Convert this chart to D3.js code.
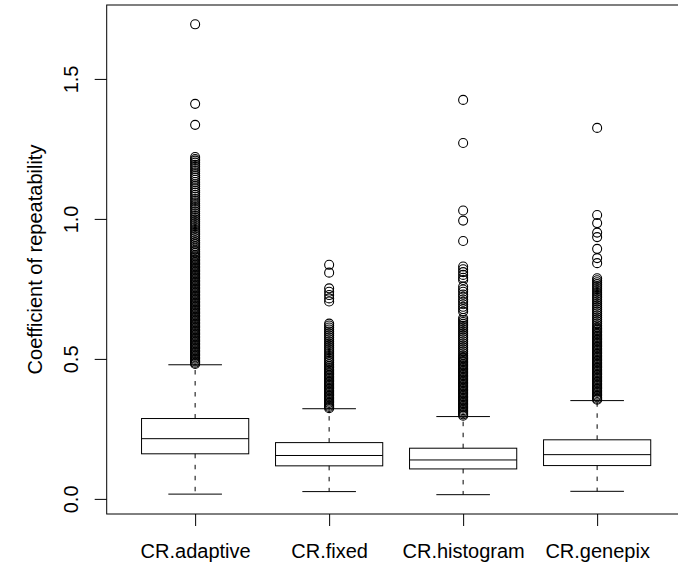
<!doctype html>
<html lang="en">
  <head>
    <meta charset="utf-8">
    <title>Coefficient of repeatability</title>
    <style>
      body { margin: 0; background: #fff; }
      svg text { font-family: "Liberation Sans", Arial, sans-serif; fill: #000; }
    </style>
  </head>
  <body>
    <div id="chart"></div>

  <script src="https://cdn.jsdelivr.net/npm/d3@7"></script>
  <script>

  // box statistics
  var categories = ["CR.adaptive", "CR.fixed", "CR.histogram", "CR.genepix"];
  var lowerWhisker = [0.017, 0.026, 0.015, 0.027];
  var q1 = [0.161, 0.118, 0.107, 0.119];
  var medians = [0.215, 0.155, 0.139, 0.158];
  var q3 = [0.287, 0.201, 0.181, 0.211];
  var upperWhisker = [0.479, 0.322, 0.294, 0.351];
  var yTicks = [0, 0.5, 1, 1.5];

  // outliers (estimated, dense runs are read as closely packed points)
  var outAdaptive = [1.695, 1.411, 1.336, 1.221, 1.214, 1.208, 1.201, 1.193, 1.186, 1.178, 1.171, 1.163, 1.155,
    1.148, 1.14, 1.132, 1.124, 1.117, 1.109, 1.101, 1.094, 1.086, 1.079, 1.071, 1.064, 1.056, 1.049, 1.042, 1.035,
    1.027, 1.02, 1.013, 1.006, 0.999, 0.992, 0.985, 0.978, 0.971, 0.964, 0.957, 0.95, 0.943, 0.936, 0.93, 0.923,
    0.916, 0.91, 0.903, 0.897, 0.89, 0.884, 0.878, 0.872, 0.866, 0.861, 0.856, 0.851, 0.846, 0.841, 0.836, 0.831,
    0.826, 0.821, 0.816, 0.811, 0.806, 0.801, 0.796, 0.791, 0.786, 0.781, 0.776, 0.771, 0.766, 0.761, 0.756, 0.751,
    0.746, 0.741, 0.736, 0.731, 0.726, 0.721, 0.716, 0.711, 0.706, 0.701, 0.696, 0.691, 0.686, 0.681, 0.676, 0.671,
    0.666, 0.661, 0.656, 0.651, 0.646, 0.641, 0.636, 0.631, 0.626, 0.621, 0.616, 0.611, 0.606, 0.601, 0.596, 0.591,
    0.586, 0.581, 0.576, 0.571, 0.566, 0.561, 0.556, 0.551, 0.546, 0.541, 0.536, 0.531, 0.526, 0.521, 0.516, 0.511,
    0.506, 0.501, 0.496, 0.491, 0.486, 0.482];
  var outFixed = [0.836, 0.808, 0.752, 0.74, 0.728, 0.716, 0.705, 0.626, 0.619, 0.612, 0.605, 0.598, 0.591, 0.584,
    0.577, 0.57, 0.563, 0.556, 0.549, 0.542, 0.535, 0.528, 0.521, 0.514, 0.507, 0.5, 0.493, 0.487, 0.481, 0.475,
    0.469, 0.463, 0.458, 0.453, 0.448, 0.443, 0.438, 0.433, 0.428, 0.423, 0.418, 0.413, 0.408, 0.403, 0.398, 0.393,
    0.388, 0.383, 0.378, 0.373, 0.368, 0.363, 0.358, 0.353, 0.348, 0.343, 0.338, 0.333, 0.328, 0.324];
  var outHistogram = [1.425, 1.271, 1.03, 0.994, 0.921, 0.83, 0.82, 0.81, 0.8, 0.79, 0.782, 0.758, 0.748, 0.74,
    0.73, 0.722, 0.712, 0.704, 0.695, 0.686, 0.678, 0.669, 0.646, 0.639, 0.632, 0.625, 0.618, 0.611, 0.604, 0.597,
    0.59, 0.583, 0.576, 0.569, 0.562, 0.555, 0.548, 0.541, 0.534, 0.527, 0.52, 0.513, 0.507, 0.502, 0.497, 0.492,
    0.487, 0.482, 0.477, 0.472, 0.467, 0.462, 0.457, 0.452, 0.447, 0.442, 0.437, 0.432, 0.427, 0.422, 0.417, 0.412,
    0.407, 0.402, 0.397, 0.392, 0.387, 0.382, 0.377, 0.372, 0.367, 0.362, 0.357, 0.352, 0.347, 0.342, 0.337, 0.332,
    0.327, 0.322, 0.317, 0.312, 0.307, 0.302, 0.297];
  var outGenepix = [1.325, 1.014, 0.985, 0.951, 0.935, 0.893, 0.86, 0.842, 0.788, 0.781, 0.774, 0.767, 0.76, 0.753,
    0.746, 0.739, 0.732, 0.725, 0.718, 0.711, 0.704, 0.697, 0.69, 0.683, 0.676, 0.669, 0.662, 0.655, 0.648, 0.641,
    0.634, 0.627, 0.62, 0.614, 0.608, 0.603, 0.598, 0.593, 0.588, 0.583, 0.578, 0.573, 0.568, 0.563, 0.558, 0.553,
    0.548, 0.543, 0.538, 0.533, 0.528, 0.523, 0.518, 0.513, 0.508, 0.503, 0.498, 0.493, 0.488, 0.483, 0.478, 0.473,
    0.468, 0.463, 0.458, 0.453, 0.448, 0.443, 0.438, 0.433, 0.428, 0.423, 0.418, 0.413, 0.408, 0.403, 0.398, 0.393,
    0.388, 0.383, 0.378, 0.373, 0.368, 0.363, 0.358, 0.354];
  var outliers = [outAdaptive, outFixed, outHistogram, outGenepix];

  var w = 678, h = 564;
  var plotLeft = 106.7, plotTop = 5, plotBottom = 514;
  var unit = 134; // pixels per box slot

  var svg = d3.select("#chart").append("svg")
      .attr("width", w)
      .attr("height", h);

  // R style ranges: 0.5..4.5 widened by 4%
  var x = d3.scaleLinear().domain([0.34, 4.66]).range([plotLeft, plotLeft + 4.32 * unit]);
  var y = d3.scaleLinear().domain([-0.054, 1.764]).range([plotBottom, plotTop]);

  var boxW = 0.8, capW = 0.4;

  var g = svg.append("g");

  for (var i = 0; i < categories.length; i++) {
    var cx = x(i + 1);
    // whiskers
    g.append("line")
      .attr("x1", cx).attr("x2", cx)
      .attr("y1", y(q3[i])).attr("y2", y(upperWhisker[i]))
      .attr("stroke", "#000").attr("stroke-dasharray", "4.5,6.5");
    g.append("line")
      .attr("x1", cx).attr("x2", cx)
      .attr("y1", y(q1[i])).attr("y2", y(lowerWhisker[i]))
      .attr("stroke", "#000").attr("stroke-dasharray", "4.5,6.5");
    g.append("line")
      .attr("x1", x(i + 1 - capW / 2)).attr("x2", x(i + 1 + capW / 2))
      .attr("y1", y(upperWhisker[i])).attr("y2", y(upperWhisker[i]))
      .attr("stroke", "#000");
    g.append("line")
      .attr("x1", x(i + 1 - capW / 2)).attr("x2", x(i + 1 + capW / 2))
      .attr("y1", y(lowerWhisker[i])).attr("y2", y(lowerWhisker[i]))
      .attr("stroke", "#000");
    // box
    g.append("rect")
      .attr("x", x(i + 1 - boxW / 2))
      .attr("y", y(q3[i]))
      .attr("width", x(i + 1 + boxW / 2) - x(i + 1 - boxW / 2))
      .attr("height", y(q1[i]) - y(q3[i]))
      .attr("fill", "none").attr("stroke", "#000");
    g.append("line")
      .attr("x1", x(i + 1 - boxW / 2)).attr("x2", x(i + 1 + boxW / 2))
      .attr("y1", y(medians[i])).attr("y2", y(medians[i]))
      .attr("stroke", "#000");
    // outliers
    g.selectAll(null)
      .data(outliers[i])
      .enter().append("circle")
      .attr("cx", cx)
      .attr("cy", function(d) { return y(d); })
      .attr("r", 4.5)
      .attr("fill", "none")
      .attr("stroke", "#000")
      .attr("stroke-width", 1.1);
  }

  // frame
  svg.append("rect")
    .attr("x", plotLeft).attr("y", plotTop)
    .attr("width", 4.32 * unit).attr("height", plotBottom - plotTop)
    .attr("fill", "none").attr("stroke", "#000");

  // y axis, labels parallel to the axis
  var yAxis = svg.append("g")
    .attr("transform", "translate(" + plotLeft + ",0)")
    .call(d3.axisLeft(y).tickValues(yTicks).tickSize(12).tickFormat(d3.format(".1f")));
  yAxis.select(".domain").remove();
  yAxis.selectAll("text")
    .attr("x", null).attr("dy", null)
    .attr("transform", "translate(-28.5,0) rotate(-90)")
    .attr("text-anchor", "middle")
    .style("font-size", "20px");

  var xAxis = svg.append("g")
    .attr("transform", "translate(0," + plotBottom + ")")
    .call(d3.axisBottom(x).tickValues([1, 2, 3, 4]).tickSize(12)
      .tickFormat(function(d) { return categories[d - 1]; }));
  xAxis.select(".domain").remove();
  xAxis.selectAll("text")
    .attr("y", 44).attr("dy", null)
    .style("font-size", "20px");

  svg.selectAll(".tick line").attr("stroke", "#000");

  svg.append("text")
    .attr("transform", "translate(42," + ((plotTop + plotBottom) / 2) + ") rotate(-90)")
    .attr("text-anchor", "middle")
    .style("font-size", "20px")
    .text("Coefficient of repeatability");

  </script>
  </body>
</html>
